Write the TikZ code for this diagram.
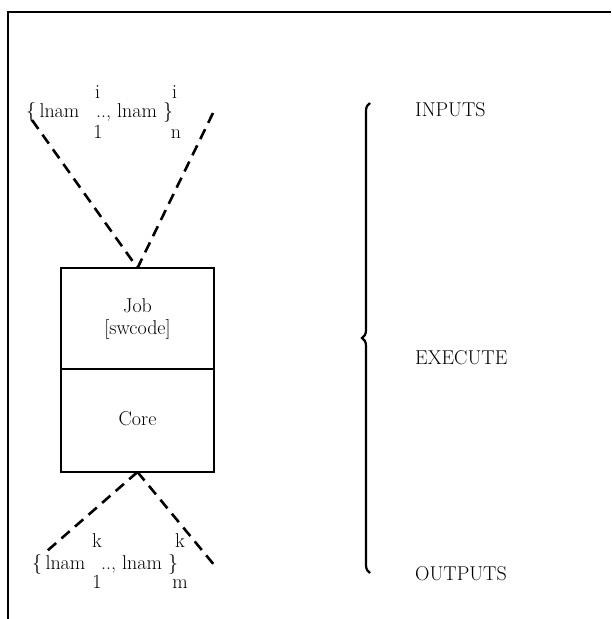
\documentclass[tikz,border=0pt]{standalone}
\usepackage{fontspec}
\usetikzlibrary{decorations.pathreplacing}
\begin{document}
\begin{tikzpicture}[x=1pt,y=-1pt,
  every node/.style={font=\fontsize{20}{23}\selectfont, inner sep=0pt},
  frameline/.style={line width=2.6pt},
  boxpart/.style={draw, line width=2.2pt, outer sep=0pt, minimum width=153pt, anchor=north},
  flow/.style={line width=2.6pt, dash pattern=on 11pt off 7pt},
  txt/.style={anchor=base west},
  idx/.style={anchor=base},
  label/.style={anchor=base west}]
\useasboundingbox (0,0) rectangle (611,619);

% open frame: top rule and left rule
\coordinate (fa) at (611,12);
\coordinate (fb) at (8,12);
\coordinate (fc) at (8,619);
\draw[frameline] (fa) -- (fb) -- (fc);

% the job box, split into two parts
\node[boxpart, minimum height=101pt] (job) at (137.5,268) {};
\node[boxpart, minimum height=103pt] (core) at (job.south) {};
\node[idx] (jobname) at (137.5,312) {Job};
\node[idx] (swcode) at (137.5,334) {[swcode]};
\node[idx] (corename) at (137.5,425) {Core};

% input name list
\node[txt] (inl) at (26,117) {\{\,lnam};
\node[txt] (inr) at (96,117) {..,\ lnam\ \}};
\node[idx] (ini1) at (97.5,98) {i};
\node[idx] (ins1) at (98,138) {1};
\node[idx] (ini2) at (174.5,98) {i};
\node[idx] (insn) at (176,138) {n};

% output name list
\node[txt] (outl) at (32,569) {\{\,lnam};
\node[txt] (outr) at (101,569) {..,\ lnam\ \}};
\node[idx] (outk1) at (97,547) {k};
\node[idx] (outs1) at (97,588) {1};
\node[idx] (outk2) at (180,547) {k};
\node[idx] (outsm) at (180,588) {m};

% dashed funnels into and out of the box
\coordinate (tl) at (32,120);
\coordinate (tr) at (213,113);
\coordinate (bl) at (47,551);
\coordinate (br) at (215,566);
\draw[flow] (tl) -- (job.north);
\draw[flow] (tr) -- (job.north);
\draw[flow] (core.south) -- (bl);
\draw[flow] (core.south) -- (br);

% phase brace and labels
\coordinate (brb) at (370,573);
\coordinate (brt) at (370,103);
\draw[line width=2.2pt, decorate, decoration={brace, amplitude=8pt}] (brb) -- (brt);
\node[label] (inputs) at (415,116) {INPUTS};
\node[label] (execute) at (415,364) {EXECUTE};
\node[label] (outputs) at (415,580) {OUTPUTS};
\end{tikzpicture}
\end{document}
